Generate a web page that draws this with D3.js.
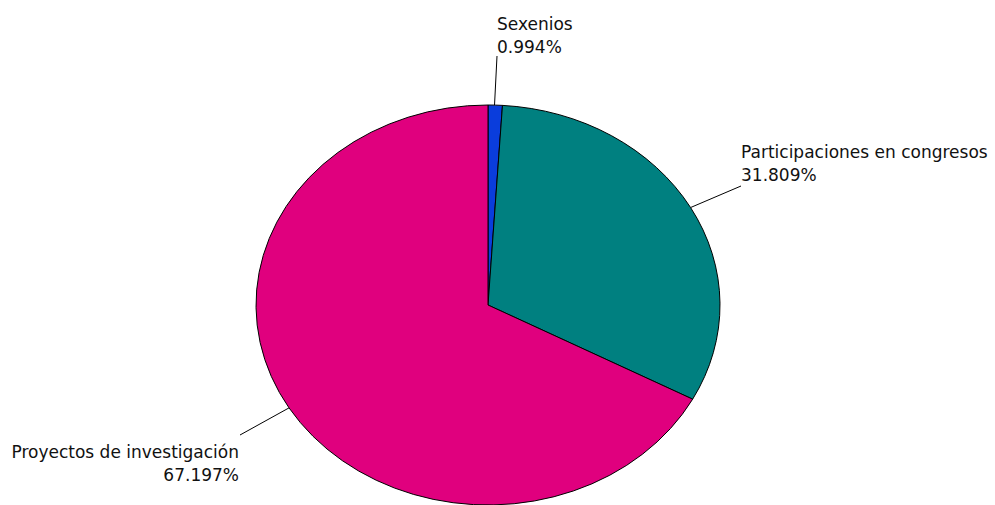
<!DOCTYPE html>
<html>
<head>
<meta charset="utf-8">
<script src="https://cdn.jsdelivr.net/npm/d3@7"></script>
<style>
  body { margin: 0; background: #fff; }
  svg { display: block; }
  text { font-family: "DejaVu Sans", sans-serif; font-size: 17px; fill: #111; }
</style>
</head>
<body>
<svg width="995" height="505"></svg>
<script>
var categories = ["Sexenios", "Participaciones en congresos", "Proyectos de investigación"];
var values = [0.994, 31.809, 67.197];
var colors = ["#0a3ddc", "#008080", "#e0007e"];

var svg = d3.select("svg");

var cx = 488, cy = 305, rx = 232, ry = 200;

var pie = d3.pie().sort(null).value(function(d) { return d.value; });
var arcs = pie(categories.map(function(c, i) { return { name: c, value: values[i], color: colors[i] }; }));

// draw as circle of radius rx, squashed vertically into an ellipse
var arc = d3.arc().innerRadius(0).outerRadius(rx);

var g = svg.append("g")
    .attr("transform", "translate(" + cx + "," + cy + ") scale(1," + (ry / rx) + ")");

g.selectAll("path")
    .data(arcs)
    .enter().append("path")
      .attr("d", arc)
      .attr("fill", function(d) { return d.data.color; })
      .attr("stroke", "#000")
      .attr("stroke-width", 1)
      .attr("vector-effect", "non-scaling-stroke");

// label settings: leader end point and text anchor per slice
var labels = [
  { x: 497, y: 56, tx: 497, ty: 30, anchor: "start" },
  { x: 741, y: 186, tx: 741, ty: 158, anchor: "start" },
  { x: 240, y: 435, tx: 239, ty: 458, anchor: "end" }
];

arcs.forEach(function(d, i) {
  var mid = (d.startAngle + d.endAngle) / 2;
  if (i == 0) mid = d.startAngle + (d.endAngle - d.startAngle) * 0.45;
  var px = cx + rx * Math.sin(mid);
  var py = cy - ry * Math.cos(mid);
  var L = labels[i];

  svg.append("line")
      .attr("x1", px).attr("y1", py)
      .attr("x2", L.x).attr("y2", L.y)
      .attr("stroke", "#000")
      .attr("stroke-width", 1);

  var t = svg.append("text")
      .attr("text-anchor", L.anchor);
  t.append("tspan").attr("x", L.tx).attr("y", L.ty).text(d.data.name);
  t.append("tspan").attr("x", L.tx).attr("y", L.ty + 23).text(d.data.value.toFixed(3) + "%");
});
</script>
</body>
</html>
